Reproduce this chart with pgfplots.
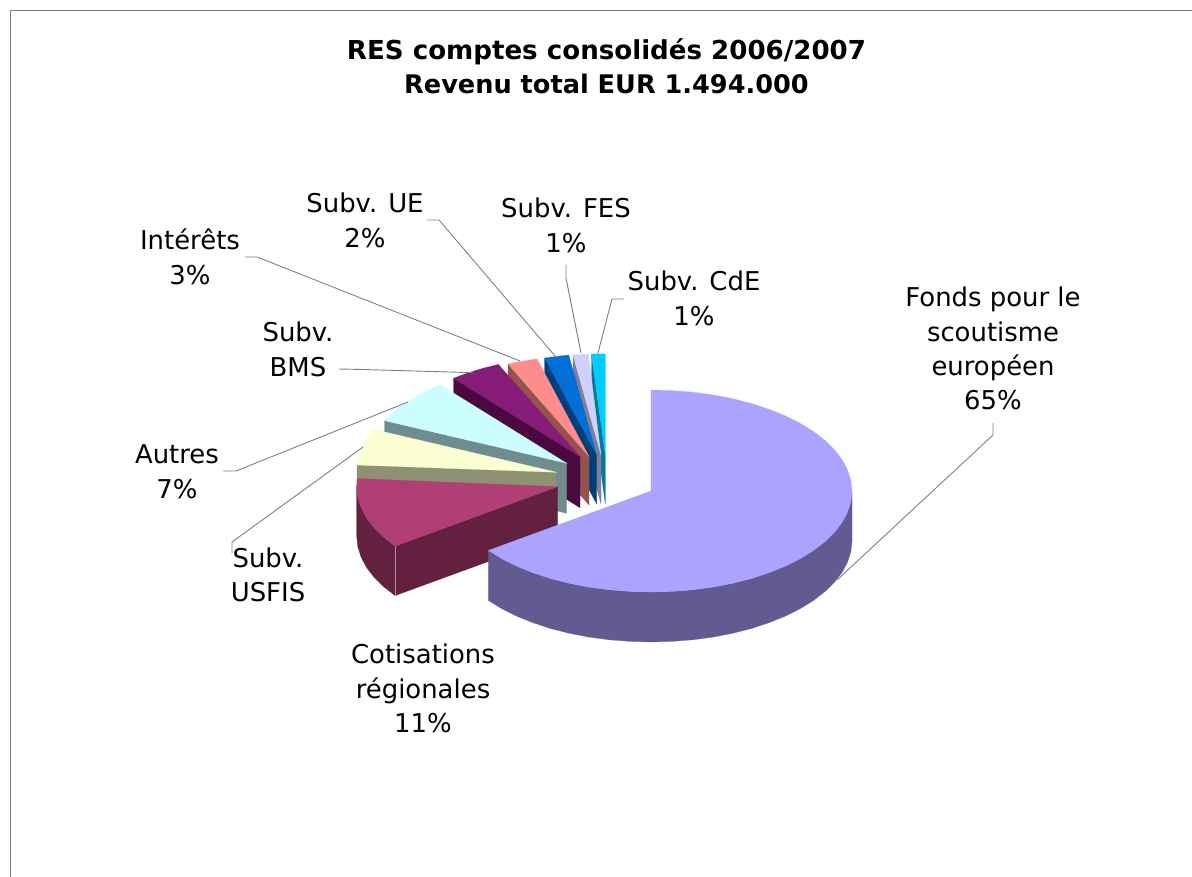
\documentclass[border=0pt]{standalone}
\usepackage{fontspec}
\setmainfont{DejaVu Sans}
\usepackage{pgfplots}
\pgfplotsset{compat=1.18}
\definecolor{mainT}{HTML}{ABA3FF}\definecolor{mainS}{HTML}{635A92}
\definecolor{magT}{HTML}{B03F75}\definecolor{magS}{HTML}{64203F}
\definecolor{yelT}{HTML}{FBFDD3}\definecolor{yelS}{HTML}{8E9272}
\definecolor{cyaT}{HTML}{CCFDFF}\definecolor{cyaS}{HTML}{6F8D8F}
\definecolor{purT}{HTML}{861C78}\definecolor{purS}{HTML}{4A0A40}
\definecolor{salT}{HTML}{FF8C8C}\definecolor{salS}{HTML}{94534D}
\definecolor{bluT}{HTML}{006FD6}\definecolor{bluS}{HTML}{003F7A}
\definecolor{lavT}{HTML}{D0D0FF}\definecolor{lavS}{HTML}{7F7F99}
\definecolor{cdeT}{HTML}{00CCFF}\definecolor{cdeS}{HTML}{007A99}
\definecolor{lead}{HTML}{808080}
\newcommand{\lab}[3]{\node[anchor=base,inner sep=0pt,font=\fontsize{25.9}{30}\selectfont,text=black] at (axis cs:#1,#2+9.5) {#3};}
\newcommand{\ttl}[3]{\node[anchor=base,inner sep=0pt,font=\fontsize{#3}{30}\selectfont\bfseries,text=black] at (axis cs:606.5,#1+9.5) {#2};}
\begin{document}
\begin{tikzpicture}
\begin{axis}[scale only axis,width=1192pt,height=877pt,xmin=0,xmax=1192,ymin=0,ymax=877,y dir=reverse,hide axis,clip=true]
% page corners
\addplot[draw=white,line width=0.1pt] coordinates {(0,0) (1192,0) (1192,877) (0,877)} --cycle;
% frame
\addplot[draw=lead,line width=1.8pt] coordinates {(10.5,877) (10.5,10.5) (1192,10.5)};
% Subv. CdE
\addplot[fill=cdeS,draw=cdeS,line width=0.2pt] coordinates {(591.5,354) (605.3,455) (605.3,504) (591.5,403)} --cycle;
\addplot[fill=cdeT,draw=cdeT,line width=0.2pt] coordinates {(605.3,455) (591.5,354) (598,353.8) (605.3,354)} --cycle;
% Subv. FES
\addplot[fill=lavS,draw=lavS,line width=0.2pt] coordinates {(573,355) (601,455) (601,504) (573,404)} --cycle;
\addplot[fill=lavT,draw=lavT,line width=0.2pt] coordinates {(601,455) (573,355) (581,354.4) (588.4,354.2)} --cycle;
% Subv. UE
\addplot[fill=bluS,draw=bluS,line width=0.2pt] coordinates {(544.7,358) (596.7,455) (596.7,504) (544.7,407)} --cycle;
\addplot[fill=bluT,draw=bluT,line width=0.2pt] coordinates {(596.7,455) (544.7,358) (558.3,356.2) (568.7,355)} --cycle;
% Interets
\addplot[fill=salS,draw=salS,line width=0.2pt] coordinates {(508,364) (589,456.5) (589,505) (508,412.5)} --cycle;
\addplot[fill=salT,draw=salT,line width=0.2pt] coordinates {(589,456.5) (508,364) (520.3,361.6) (537,358.9)} --cycle;
% Subv. BMS
\addplot[fill=purS,draw=purS,line width=0.2pt] coordinates {(453.5,378.2) (580,456.7) (580,507.7) (453.5,429.2)} --cycle;
\addplot[fill=purT,draw=purT,line width=0.2pt] coordinates {(580,456.7) (453.5,378.2) (467.6,373) (482.6,368.4) (498.3,364.4)} --cycle;
% Autres
\addplot[fill=cyaS,draw=cyaS,line width=0.2pt] coordinates {(384.5,420.6) (566.7,463.3) (566.7,513.3) (384.5,470.6)} --cycle;
\addplot[fill=cyaT,draw=cyaT,line width=0.2pt] coordinates {(566.7,463.3) (384.5,420.6) (394.4,411.3) (406.2,402.5) (419.7,394.4) (429.6,389.4) (440.2,384.8)} --cycle;
% Subv. USFIS
\addplot[fill=yelS,draw=yelS,line width=0.2pt] coordinates {(357,465) (556.7,472.3) (556.7,522) (357,515)} --cycle;
\addplot[fill=yelT,draw=yelT,line width=0.2pt] coordinates {(556.7,472.3) (357,465) (358.8,454.8) (363.5,444.5) (370.3,434.5) (374.5,429.6)} --cycle;
% Cotisations regionales
\addplot[fill=magS,draw=magS,line width=0.2pt] coordinates {(395.1,546.1) (557.7,486.7) (557.7,536.2) (395.1,595.6)} --cycle;
\addplot[fill=magS,draw=magS,line width=0.2pt] coordinates {(395.1,546.1) (383.6,537.2) (374.1,527.8) (366.5,517.9) (361.1,507.7) (357.8,497.3) (356.7,486.7) (356.7,536.2) (357.8,546.8) (361.1,557.2) (366.5,567.4) (374.1,577.3) (383.6,586.7) (395.1,595.6)} --cycle;
\addplot[fill=magT,draw=magT,line width=0.2pt] coordinates {(557.7,486.7) (395.1,546.1) (383.6,537.2) (374.1,527.8) (366.5,517.9) (361.1,507.7) (357.8,497.3) (356.7,486.7) (357.2,478.5)} --cycle;
\addplot[draw=magS!50!white,line width=0.6pt] coordinates {(395.1,546.1) (395.1,595.6)};
% Fonds
\addplot[fill=mainS,draw=mainS,line width=0.2pt] coordinates {(852,491) (850.9,501.6) (847.6,512) (842.2,522.2) (834.6,532.1) (825.1,541.5) (813.6,550.4) (800.4,558.6) (785.5,566.1) (769.1,572.7) (751.5,578.5) (732.7,583.3) (713.1,587.1) (692.8,589.8) (672,591.4) (651,592) (630,591.4) (609.2,589.8) (588.9,587.1) (569.3,583.3) (550.5,578.5) (532.9,572.7) (516.5,566.1) (501.6,558.6) (488.4,550.4)
 (488.4,600.4) (501.6,608.6) (516.5,616.1) (532.9,622.7) (550.5,628.5) (569.3,633.3) (588.9,637.1) (609.2,639.8) (630,641.4) (651,642) (672,641.4) (692.8,639.8) (713.1,637.1) (732.7,633.3) (751.5,628.5) (769.1,622.7) (785.5,616.1) (800.4,608.6) (813.6,600.4) (825.1,591.5) (834.6,582.1) (842.2,572.2) (847.6,562) (850.9,551.6) (852,541)} --cycle;
\addplot[fill=mainT,draw=mainT,line width=0.2pt] coordinates {(651,491) (651,390) (672,390.6) (692.8,392.2) (713.1,394.9) (732.7,398.7) (751.5,403.5) (769.1,409.3) (785.5,415.9) (800.4,423.4) (813.6,431.6) (825.1,440.5) (834.6,449.9) (842.2,459.8) (847.6,470) (850.9,480.4) (852,491) (850.9,501.6) (847.6,512) (842.2,522.2) (834.6,532.1) (825.1,541.5) (813.6,550.4) (800.4,558.6) (785.5,566.1) (769.1,572.7) (751.5,578.5) (732.7,583.3) (713.1,587.1) (692.8,589.8) (672,591.4) (651,592) (630,591.4) (609.2,589.8) (588.9,587.1) (569.3,583.3) (550.5,578.5) (532.9,572.7) (516.5,566.1) (501.6,558.6) (488.4,550.4)} --cycle;
% leader lines
\addplot[draw=lead,line width=0.9pt] coordinates {(993,423) (993,435) (837,580)};
\addplot[draw=lead,line width=0.9pt] coordinates {(232,553) (232,542) (363,447)};
\addplot[draw=lead,line width=0.9pt] coordinates {(223,471) (236,471) (408,402)};
\addplot[draw=lead,line width=0.9pt] coordinates {(339,369) (363,369.5) (473,372.7)};
\addplot[draw=lead,line width=0.9pt] coordinates {(245,257) (257,257) (520,361)};
\addplot[draw=lead,line width=0.9pt] coordinates {(427,220) (439,220) (555,356)};
\addplot[draw=lead,line width=0.9pt] coordinates {(566,265) (566,278) (581,353)};
\addplot[draw=lead,line width=0.9pt] coordinates {(624,299) (612,299) (598,353)};
% text
\ttl{50}{RES comptes consolidés 2006/2007}{26.1}
\ttl{84}{Revenu total EUR 1.494.000}{25.6}
\lab{365}{203}{Subv. UE}\lab{365}{238}{2\%}
\lab{566}{208}{Subv. FES}\lab{566}{243}{1\%}
\lab{190}{240}{Intérêts}\lab{190}{275}{3\%}
\lab{694}{281}{Subv. CdE}\lab{694}{316}{1\%}
\lab{993}{297}{Fonds pour le}\lab{993}{332}{scoutisme}\lab{993}{366}{européen}\lab{993}{400}{65\%}
\lab{298}{332}{Subv.}\lab{298}{367}{BMS}
\lab{177}{454}{Autres}\lab{177}{489}{7\%}
\lab{268}{558}{Subv.}\lab{268}{592}{USFIS}
\lab{423}{654}{Cotisations}\lab{423}{689}{régionales}\lab{423}{723}{11\%}
\end{axis}
\end{tikzpicture}
\end{document}
